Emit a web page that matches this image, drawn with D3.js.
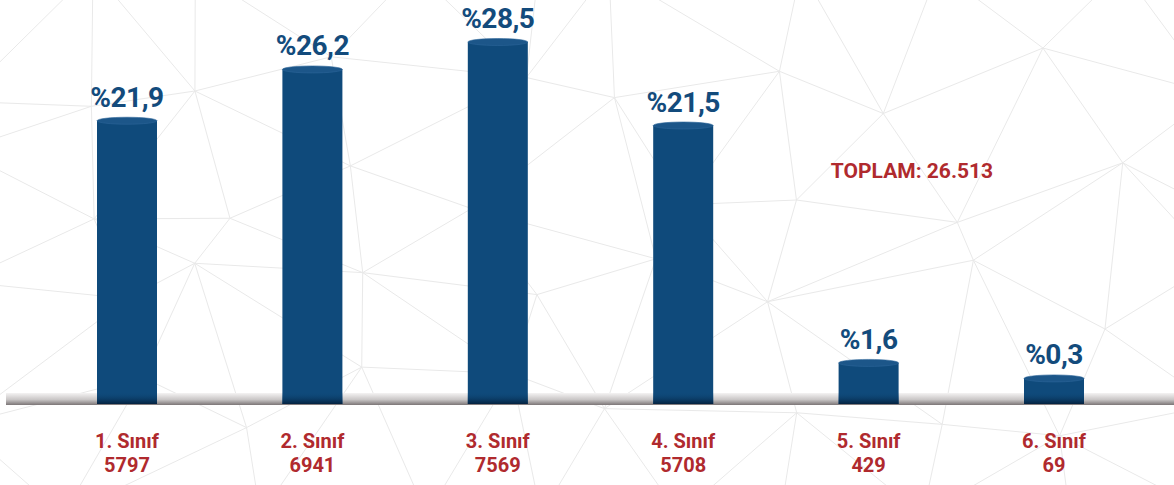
<!DOCTYPE html>
<html>
<head>
<meta charset="utf-8">
<script src="https://cdn.jsdelivr.net/npm/d3@7"></script>
<style>
  html, body { margin: 0; padding: 0; background: #fff; }
  svg { display: block; }
</style>
</head>
<body>
<div id="chart"></div>
<script>
const classes = ["1. Sınıf", "2. Sınıf", "3. Sınıf", "4. Sınıf", "5. Sınıf", "6. Sınıf"];
const counts = [5797, 6941, 7569, 5708, 429, 69];
const percents = ["%21,9", "%26,2", "%28,5", "%21,5", "%1,6", "%0,3"];
const shares = [21.9, 26.2, 28.5, 21.5, 1.6, 0.3];
const totalLabel = "TOPLAM: 26.513";

const width = 1174, height = 485;
const baseY = 404;
const barWidth = 60;

const svg = d3.select("#chart")
  .append("svg")
    .attr("width", width)
    .attr("height", height);

const defs = svg.append("defs");

const shadeGrad = defs.append("linearGradient")
    .attr("id", "shadeGrad")
    .attr("x1", 0).attr("y1", 0).attr("x2", 0).attr("y2", 1);
shadeGrad.append("stop").attr("offset", "0%").attr("stop-color", "#0f4a7b").attr("stop-opacity", 0);
shadeGrad.append("stop").attr("offset", "100%").attr("stop-color", "#04223f").attr("stop-opacity", 1);

const floorGrad = defs.append("linearGradient")
    .attr("id", "floorGrad")
    .attr("x1", 0).attr("y1", 0).attr("x2", 0).attr("y2", 1);
floorGrad.append("stop").attr("offset", "0%").attr("stop-color", "#f4f3f3");
floorGrad.append("stop").attr("offset", "55%").attr("stop-color", "#c9c6c6");
floorGrad.append("stop").attr("offset", "100%").attr("stop-color", "#7b7576");

// background decoration: light triangulated mesh
const cols = 9, rows = 5;
const pts = [];
const hash = (i, j, k) => {
  const s = Math.sin(i * 127.1 + j * 311.7 + k * 74.7) * 43758.5453;
  return s - Math.floor(s);
};
for (let j = 0; j <= rows; j++) {
  for (let i = 0; i <= cols; i++) {
    const jx = (i === 0 || i === cols) ? 0 : (hash(i, j, 1) - 0.5) * 110;
    const jy = (j === 0 || j === rows) ? 0 : (hash(i, j, 2) - 0.5) * 80;
    pts.push([-40 + i * (width + 80) / cols + jx, -30 + j * (height + 60) / rows + jy]);
  }
}
const delaunay = d3.Delaunay.from(pts);
svg.append("path")
    .attr("d", delaunay.render())
    .attr("fill", "none")
    .attr("stroke", "#e9e9e9")
    .attr("stroke-width", 1);

const x = d3.scalePoint()
    .domain(classes)
    .range([127, 1054]);

const y = d3.scaleLinear()
    .domain([0, 28.5])
    .range([382, 42]);

// floor band
svg.append("rect")
    .attr("x", 6)
    .attr("y", 393)
    .attr("width", width - 6)
    .attr("height", 12)
    .attr("fill", "url(#floorGrad)");

const bars = svg.selectAll("g.bar")
  .data(shares)
  .join("g")
    .attr("class", "bar");

bars.append("rect")
    .attr("x", (d, i) => x(classes[i]) - barWidth / 2)
    .attr("y", d => y(d))
    .attr("width", barWidth)
    .attr("height", d => baseY - y(d))
    .attr("fill", "#0f4a7b");

bars.append("rect")
    .attr("x", (d, i) => x(classes[i]) - barWidth / 2)
    .attr("y", baseY - 12)
    .attr("width", barWidth)
    .attr("height", 12)
    .attr("fill", "url(#shadeGrad)");

bars.append("ellipse")
    .attr("cx", (d, i) => x(classes[i]))
    .attr("cy", d => y(d))
    .attr("rx", barWidth / 2)
    .attr("ry", 3.5)
    .attr("fill", "#1c5689")
    .attr("stroke", "#2b6598")
    .attr("stroke-width", 0.6);

bars.append("text")
    .text((d, i) => percents[i])
    .attr("x", (d, i) => x(classes[i]))
    .attr("y", d => y(d) - 14)
    .attr("text-anchor", "middle")
    .style("font-family", "Roboto, 'DejaVu Sans', sans-serif")
    .style("font-size", "28px")
    .style("font-weight", 700)
    .style("letter-spacing", "-0.5px")
    .style("fill", "#134b7c");

const labels = svg.selectAll("text.cat")
  .data(classes)
  .join("text")
    .attr("class", "cat")
    .attr("x", d => x(d))
    .attr("text-anchor", "middle")
    .style("font-family", "Roboto, 'DejaVu Sans', sans-serif")
    .style("font-size", "20px")
    .style("font-weight", 700)
    .style("fill", "#b02a2e");
labels.append("tspan")
    .attr("x", d => x(d))
    .attr("y", 448)
    .text(d => d);
labels.append("tspan")
    .attr("x", d => x(d))
    .attr("y", 472)
    .text((d, i) => counts[i]);

svg.append("text")
    .text(totalLabel)
    .attr("x", 912)
    .attr("y", 178)
    .attr("text-anchor", "middle")
    .style("font-family", "Roboto, 'DejaVu Sans', sans-serif")
    .style("font-size", "21px")
    .style("font-weight", 700)
    .style("fill", "#b02a2e");
</script>
</body>
</html>
